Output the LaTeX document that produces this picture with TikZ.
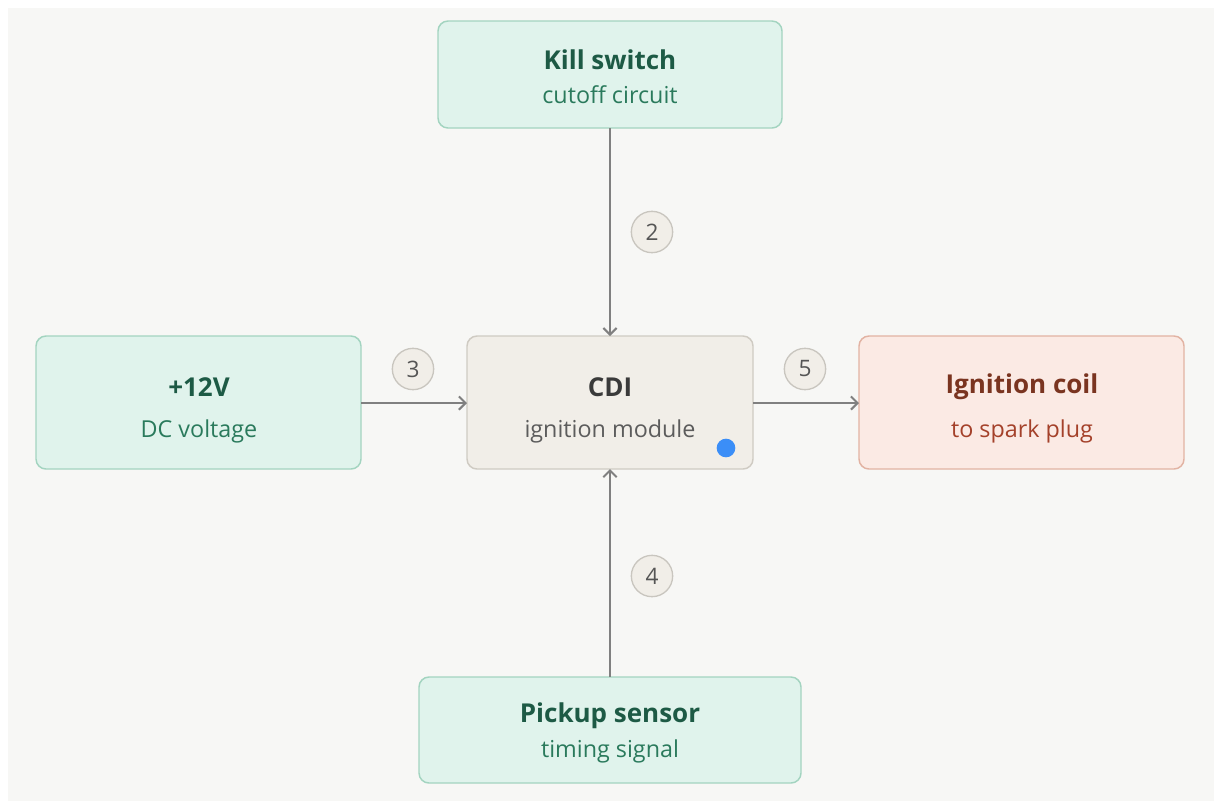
\documentclass[tikz,border=0pt]{standalone}
\usepackage{fontspec}
\setmainfont{Open Sans}
\usetikzlibrary{arrows.meta}
\definecolor{bg}{HTML}{F7F7F5}
\definecolor{gfill}{HTML}{E0F3EC}
\definecolor{gline}{HTML}{A3D4C0}
\definecolor{gtitle}{HTML}{1D5A45}
\definecolor{gsub}{HTML}{2A7A5C}
\definecolor{cfill}{HTML}{F1EEE8}
\definecolor{cline}{HTML}{CFCBC3}
\definecolor{ctitle}{HTML}{3A3A3A}
\definecolor{csub}{HTML}{5C5C5C}
\definecolor{rfill}{HTML}{FBEAE4}
\definecolor{rline}{HTML}{E2B3A3}
\definecolor{rtitle}{HTML}{7A3420}
\definecolor{rsub}{HTML}{A4412A}
\definecolor{arr}{HTML}{808080}
\definecolor{numline}{HTML}{C9C6BF}
\definecolor{numtext}{HTML}{555555}
\definecolor{dot}{HTML}{3B8EF7}
\tikzset{
  box/.style={draw, rounded corners=7.5pt, line width=1.1pt},
  gbox/.style={box, fill=gfill, draw=gline},
  cbox/.style={box, fill=cfill, draw=cline},
  rbox/.style={box, fill=rfill, draw=rline},
  ttl/.style={font=\fontsize{19.5}{23}\selectfont\bfseries},
  sub/.style={font=\fontsize{17.5}{21}\selectfont},
  conn/.style={draw=arr, line width=1.5pt, -{Straight Barb[length=5pt,width=10pt,line width=1.5pt]}},
  num/.style={circle, draw=numline, fill=cfill, line width=1pt, minimum size=31pt, inner sep=0pt, text=numtext, font=\fontsize{17}{19}\selectfont}
}
\begin{document}
\begin{tikzpicture}[x=0.75pt,y=-0.75pt]
\useasboundingbox (0,0) rectangle (1214,801);
\fill[bg] (8,8) rectangle (1214,801);
% boxes
\path[gbox] (438,21) rectangle (782,128);
\coordinate (ksb) at (610,128);
\path[gbox] (36,336) rectangle (361,469);
\coordinate (vr) at (361,403);
\path[cbox] (467,336) rectangle (753,469);
\coordinate (ct) at (610,336);
\coordinate (cl) at (467,403);
\coordinate (cr) at (753,403);
\coordinate (cb) at (610,469);
\path[rbox] (859,336) rectangle (1184,469);
\coordinate (il) at (859,403);
\path[gbox] (419,677) rectangle (801,783);
\coordinate (pt) at (610,677);
% texts
\node[ttl, text=gtitle] (kst) at (610,60) {Kill switch};
\node[sub, text=gsub] (kss) at (610,95) {cutoff circuit};
\node[ttl, text=gtitle] (vt) at (199,387) {+12V};
\node[sub, text=gsub] (vs) at (199,431) {DC voltage};
\node[ttl, text=ctitle] (cdt) at (610,387) {CDI};
\node[sub, text=csub] (cds) at (610,431) {ignition module};
\node[ttl, text=rtitle] (igt) at (1022,387) {Ignition coil};
\node[sub, text=rsub] (igs) at (1022,431) {to spark plug};
\node[ttl, text=gtitle] (pst) at (610,716) {Pickup sensor};
\node[sub, text=gsub] (pss) at (610,751) {timing signal};
% connectors
\draw[conn] (ksb) -- (ct);
\draw[conn] (vr) -- (cl);
\draw[conn] (cr) -- (il);
\draw[conn] (pt) -- (cb);
% number badges
\node[num] (n2) at (652,232) {2};
\node[num] (n3) at (413,369) {3};
\node[num] (n5) at (805,369) {5};
\node[num] (n4) at (652,576) {4};
% status dot
\fill[dot] (726,448) circle (7pt);
\end{tikzpicture}
\end{document}
